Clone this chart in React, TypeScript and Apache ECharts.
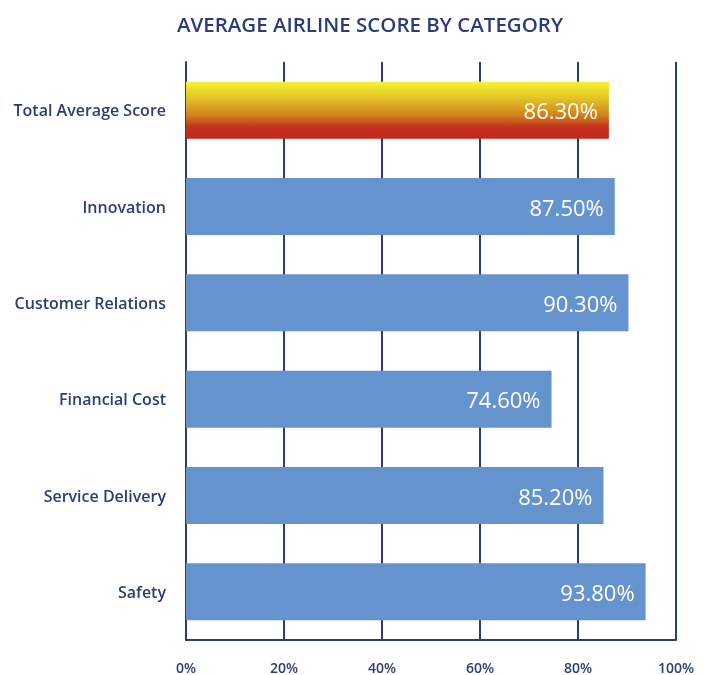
import React, { useEffect, useRef } from "react";
import * as echarts from "echarts";

const categories = [
  "Total Average Score",
  "Innovation",
  "Customer Relations",
  "Financial Cost",
  "Service Delivery",
  "Safety",
];
const scores = [86.3, 87.5, 90.3, 74.6, 85.2, 93.8];
const xTicks = [0, 20, 40, 60, 80, 100];

const NAVY = "#2b3d78";
const FONT = "'Open Sans', 'Noto Sans', sans-serif";

export default function App() {
  const ref = useRef<HTMLDivElement>(null);
  useEffect(() => {
    if (!ref.current) return;
    const chart = echarts.init(ref.current, undefined, { renderer: "svg" });
    const data = scores.map((v, i) =>
      i === 0
        ? {
            value: v,
            itemStyle: {
              color: new echarts.graphic.LinearGradient(0, 0, 0, 1, [
                { offset: 0, color: "#f4f233" },
                { offset: 0.3, color: "#e2c226" },
                { offset: 0.6, color: "#cf7f1c" },
                { offset: 0.8, color: "#c3301c" },
                { offset: 1, color: "#c2281c" },
              ]),
            },
          }
        : { value: v }
    );
    chart.setOption({
      animation: false,
      title: {
        text: "AVERAGE AIRLINE SCORE BY CATEGORY",
        left: 365,
        textAlign: "center",
        top: 8,
        textStyle: {
          color: NAVY,
          fontSize: 20.5,
          fontWeight: 600,
          fontFamily: FONT,
        },
      },
      grid: { left: 186, right: 27, top: 62, bottom: 35, containLabel: false },
      xAxis: {
        type: "value",
        min: 0,
        max: 100,
        interval: 20,
        axisLine: { show: true, lineStyle: { color: NAVY, width: 2 } },
        axisTick: { show: false },
        splitLine: { show: true, lineStyle: { color: NAVY, width: 2 } },
        axisLabel: {
          color: NAVY,
          fontSize: 14,
          fontWeight: 600,
          fontFamily: FONT,
          margin: 20,
          formatter: (v: number) => (xTicks.includes(v) ? `${v}%` : ""),
        },
      },
      yAxis: {
        type: "category",
        data: categories,
        inverse: true,
        axisLine: { show: true, lineStyle: { color: NAVY, width: 2 } },
        axisTick: { show: false },
        axisLabel: {
          color: NAVY,
          fontSize: 16,
          fontWeight: 600,
          fontFamily: FONT,
          margin: 20,
        },
      },
      series: [
        {
          type: "bar",
          data,
          barWidth: 57,
          itemStyle: { color: "#6593cd" },
          label: {
            show: true,
            position: "insideRight",
            distance: 11,
            color: "#ffffff",
            fontSize: 22,
            fontWeight: 500,
            fontFamily: FONT,
            formatter: (p: any) => `${Number(p.value).toFixed(2)}%`,
          },
        },
      ],
    });
    return () => chart.dispose();
  }, []);
  return (
    <div
      ref={ref}
      style={{ position: "fixed", left: 0, top: 0, width: 703, height: 675 }}
    />
  );
}
